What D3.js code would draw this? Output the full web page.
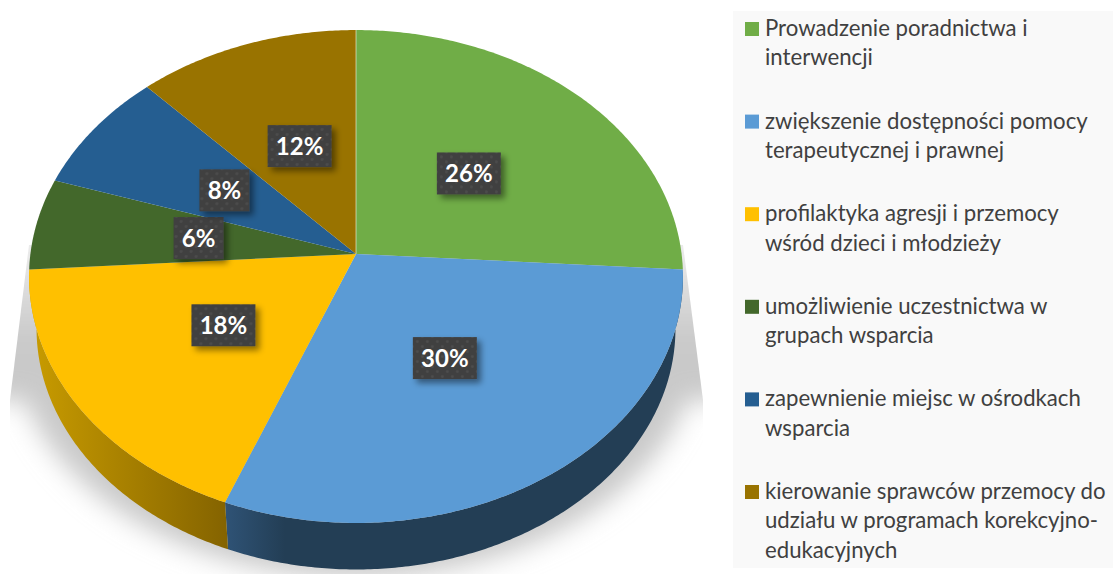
<!DOCTYPE html>
<html>
<head>
<meta charset="utf-8">
<script src="https://cdn.jsdelivr.net/npm/d3@7"></script>
<style>
  html, body { margin: 0; padding: 0; background: #fff; overflow: hidden; }
  svg { display: block; }
  text { font-family: Lato, "Open Sans", sans-serif; }
</style>
</head>
<body>
<div id="chart"></div>
<script>
// Data
const categories = [
  "Prowadzenie poradnictwa i|interwencji",
  "zwiększenie dostępności pomocy|terapeutycznej i prawnej",
  "profilaktyka agresji i przemocy|wśród dzieci i młodzieży",
  "umożliwienie uczestnictwa w|grupach wsparcia",
  "zapewnienie miejsc w ośrodkach|wsparcia",
  "kierowanie sprawców przemocy do|udziału w programach korekcyjno-|edukacyjnych"
];
const values = [26, 30, 18, 6, 8, 12];
const colors = ["#70ad47", "#5b9bd5", "#ffc000", "#43682b", "#255e91", "#997300"];
const sideStart = { 1: "#2f5376", 2: "#c99c00" };
const sideEnd = { 1: "#233e55", 2: "#846300" };

// Dimensions
const width = 1113, height = 574;
const apex = { x: 356, y: 254 };
const radiusX = 325.6, radiusY = 244.4, tilt = 0.0913;
const depth = 52.7, baseScale = 0.977;

const svg = d3.select("#chart").append("svg")
  .attr("width", width)
  .attr("height", height);
const defs = svg.append("defs");

// Perspective of the pie: flat disc angle/radius -> screen
function project(angle, r, lower) {
  const u = r * Math.sin(angle), v = -r * Math.cos(angle);
  const w = 1 - tilt * v;
  const s = lower ? baseScale : 1;
  return [
    apex.x + s * radiusX * u / w,
    apex.y + (lower ? depth : 0) + s * radiusY * v / w
  ];
}
function arcPoints(a0, a1, lower) {
  const n = Math.max(2, Math.ceil((a1 - a0) / 0.01));
  return d3.range(n + 1).map(i => project(a0 + (a1 - a0) * i / n, 1, lower));
}
const line = d3.line();

const slices = d3.pie().sort(null).value(d => d)(values);
const outline = arcPoints(0, Math.PI * 2, true);

// Shadow
const blur = defs.append("filter").attr("id", "blur")
  .attr("x", "-20%").attr("y", "-20%").attr("width", "140%").attr("height", "140%");
blur.append("feGaussianBlur").attr("stdDeviation", 13);

const shadeGrad = defs.append("linearGradient").attr("id", "shade")
  .attr("gradientUnits", "userSpaceOnUse")
  .attr("x1", 0).attr("x2", 0).attr("y1", 240).attr("y2", 340);
shadeGrad.append("stop").attr("offset", 0).attr("stop-color", "#eeeeee");
shadeGrad.append("stop").attr("offset", 1).attr("stop-color", "#c9c9c9");

defs.append("clipPath").attr("id", "shadowClip").append("path")
  .attr("d", line([[29, 245], [683, 245], [703, 400], [703, height], [10, height], [10, 400]]) + "Z");

const shadow = svg.append("g").attr("clip-path", "url(#shadowClip)").append("g")
  .attr("filter", "url(#blur)");
shadow.append("path")
  .attr("d", line(outline.map(p => [apex.x + (p[0] - apex.x) * 1.075, p[1] + 8])) + "Z")
  .attr("fill", "url(#shade)");
shadow.append("rect")
  .attr("x", -40).attr("y", 200)
  .attr("width", 800).attr("height", 200)
  .attr("fill", "url(#shade)");

// Side walls, only the two front slices show
slices.forEach((d, i) => {
  if (!sideStart[i]) return;
  const id = "side" + i;
  const top = arcPoints(d.startAngle, d.endAngle, false);
  const bottom = arcPoints(d.startAngle, d.endAngle, true).reverse();
  const xs = top.concat(bottom).map(p => p[0]);
  const grad = defs.append("linearGradient").attr("id", id)
    .attr("gradientUnits", "userSpaceOnUse")
    .attr("y1", 0).attr("y2", 0);
  // blue wall goes dark right away, only the left seam is lighter
  grad.attr("x1", d3.min(xs)).attr("x2", i === 1 ? d3.min(xs) + 60 : d3.max(xs));
  grad.append("stop").attr("offset", 0).attr("stop-color", sideStart[i]);
  grad.append("stop").attr("offset", 1).attr("stop-color", sideEnd[i]);
  svg.append("path")
    .attr("d", line(top.concat(bottom)) + "Z")
    .attr("fill", `url(#${id})`);
});

// Top surface
svg.append("g").selectAll("path")
  .data(slices)
  .enter().append("path")
  .attr("d", d => line([[apex.x, apex.y]].concat(arcPoints(d.startAngle, d.endAngle, false))) + "Z")
  .attr("fill", (d, i) => colors[i]);

// thin light seam at the top of the pie
svg.append("path")
  .attr("d", line([[apex.x, apex.y], project(0, 1, false)]))
  .attr("stroke", "#fff")
  .attr("stroke-opacity", 0.55)
  .attr("stroke-width", 1)
  .attr("fill", "none");

// Data labels
const dots = defs.append("pattern").attr("id", "dots")
  .attr("patternUnits", "userSpaceOnUse")
  .attr("width", 10).attr("height", 10);
dots.append("rect").attr("width", 10).attr("height", 10).attr("fill", "#404040");
dots.append("circle").attr("cx", 2.5).attr("cy", 2.5).attr("r", 1.4).attr("fill", "#4d4d4d");
dots.append("circle").attr("cx", 7.5).attr("cy", 7.5).attr("r", 1.4).attr("fill", "#4d4d4d");

const boxShadow = defs.append("filter").attr("id", "boxShadow")
  .attr("x", "-30%").attr("y", "-30%").attr("width", "170%").attr("height", "170%");
boxShadow.append("feDropShadow")
  .attr("dx", 4).attr("dy", 4).attr("stdDeviation", 3)
  .attr("flood-color", "#000").attr("flood-opacity", 0.45);

const labels = svg.append("g").selectAll("g")
  .data(slices)
  .enter().append("g")
  .attr("transform", d => `translate(${project((d.startAngle + d.endAngle) / 2, 0.49, false)})`);

labels.append("rect")
  .attr("x", d => d.value >= 10 ? -32 : -25)
  .attr("y", -22)
  .attr("width", d => d.value >= 10 ? 64 : 50)
  .attr("height", 42)
  .attr("fill", "url(#dots)")
  .attr("filter", "url(#boxShadow)");

labels.append("text")
  .attr("text-anchor", "middle")
  .attr("y", 8)
  .attr("font-size", 24)
  .attr("font-weight", 700)
  .attr("fill", "#fff")
  .text(d => d.value + "%");

// Legend
svg.append("rect")
  .attr("x", 733).attr("y", 11)
  .attr("width", width - 733).attr("height", 557)
  .attr("fill", "#f9f9f9");

const lineStep = 29.3, entryGap = 34;
let legendY = 29;
categories.forEach((c, i) => {
  const rows = c.split("|");
  svg.append("rect")
    .attr("x", 745).attr("y", legendY - 7)
    .attr("width", 14).attr("height", 14)
    .attr("fill", colors[i]);
  rows.forEach((row, j) => {
    svg.append("text")
      .attr("x", 765)
      .attr("y", legendY + j * lineStep + 7)
      .attr("font-size", 22.2)
      .attr("fill", "#404040")
      .text(row);
  });
  legendY += rows.length * lineStep + entryGap;
});
</script>
</body>
</html>
